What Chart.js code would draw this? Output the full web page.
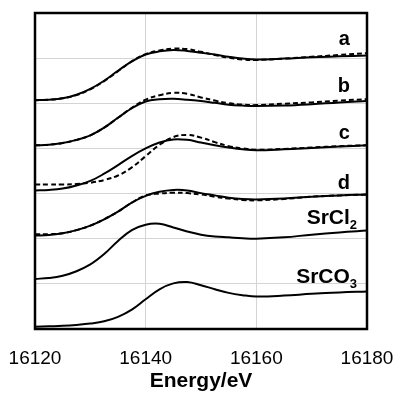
<!DOCTYPE html>
<html>
<head>
<meta charset="utf-8">
<script src="https://cdn.jsdelivr.net/npm/chart.js@4"></script>
<style>
  body { margin: 0; background: #fff; }
  #wrap { width: 397px; height: 394px; }
</style>
</head>
<body>
<div id="wrap"><canvas id="xanesChart"></canvas></div>
<script>
const energy = [16120, 16122.5, 16125, 16127.5, 16130, 16132.5, 16135, 16137.5, 16140, 16142.5, 16145,
                16147.5, 16150, 16152.5, 16155, 16157.5, 16160, 16165, 16170, 16175, 16180];

// stacked spectra, offset by one grid unit each
const aSolid  = [5.07, 5.08, 5.11, 5.19, 5.32, 5.50, 5.72, 5.93, 6.08, 6.15, 6.18, 6.16, 6.12, 6.08, 6.03, 5.99, 5.97, 5.99, 6.02, 6.04, 6.06];
const aDashed = [5.07, 5.08, 5.11, 5.18, 5.31, 5.49, 5.71, 5.93, 6.09, 6.17, 6.21, 6.20, 6.14, 6.07, 6.01, 5.97, 5.96, 5.99, 6.03, 6.07, 6.11];
const bSolid  = [4.07, 4.08, 4.12, 4.19, 4.29, 4.46, 4.68, 4.89, 5.04, 5.09, 5.10, 5.08, 5.05, 5.01, 4.97, 4.95, 4.94, 4.95, 4.98, 5.02, 5.05];
const bDashed = [4.07, 4.08, 4.12, 4.19, 4.29, 4.46, 4.68, 4.90, 5.08, 5.18, 5.23, 5.21, 5.13, 5.06, 5.00, 4.97, 4.96, 4.99, 5.02, 5.06, 5.09];
const cSolid  = [3.07, 3.08, 3.11, 3.18, 3.28, 3.44, 3.63, 3.83, 4.00, 4.13, 4.20, 4.19, 4.13, 4.07, 4.02, 3.98, 3.96, 3.98, 4.01, 4.04, 4.07];
const cDashed = [3.20, 3.20, 3.20, 3.21, 3.24, 3.30, 3.40, 3.58, 3.83, 4.08, 4.25, 4.30, 4.24, 4.14, 4.05, 4.00, 3.97, 3.99, 4.02, 4.05, 4.07];
const dSolid  = [2.07, 2.08, 2.12, 2.19, 2.29, 2.43, 2.60, 2.80, 2.95, 3.04, 3.08, 3.07, 3.01, 2.96, 2.91, 2.88, 2.87, 2.89, 2.93, 2.96, 2.98];
const dDashed = [2.10, 2.10, 2.12, 2.19, 2.29, 2.43, 2.60, 2.80, 2.96, 3.00, 3.02, 3.01, 2.98, 2.93, 2.89, 2.86, 2.85, 2.88, 2.93, 2.96, 2.98];
const srcl2   = [1.11, 1.13, 1.18, 1.28, 1.43, 1.66, 1.95, 2.19, 2.31, 2.33, 2.25, 2.16, 2.09, 2.05, 2.03, 2.01, 2.00, 2.03, 2.09, 2.14, 2.18];
const srco3   = [0.05, 0.06, 0.07, 0.09, 0.12, 0.17, 0.27, 0.43, 0.66, 0.88, 1.01, 1.04, 0.97, 0.88, 0.80, 0.75, 0.72, 0.74, 0.78, 0.81, 0.83];

const xTicks = [16120, 16140, 16160, 16180];

// curve labels: text, subscript, anchor (energy, y)
const curveLabels = [
  { text: "a", sub: "", x: 16176.9, y: 6.29 },
  { text: "b", sub: "", x: 16176.9, y: 5.25 },
  { text: "c", sub: "", x: 16176.9, y: 4.20 },
  { text: "d", sub: "", x: 16176.9, y: 3.10 },
  { text: "SrCl", sub: "2", x: 16178.2, y: 2.33 },
  { text: "SrCO", sub: "3", x: 16178.2, y: 1.02 }
];

function toPoints(values) {
  return values.map((v, i) => ({ x: energy[i], y: v }));
}

function line(values, dashed) {
  return {
    data: toPoints(values),
    borderColor: "#000",
    borderWidth: 2,
    borderDash: dashed ? [5, 3] : [],
    pointRadius: 0,
    fill: false,
    tension: 0.4
  };
}

const frame = {
  id: "frame",
  afterDraw(chart) {
    const { ctx, chartArea: a } = chart;
    ctx.save();
    ctx.strokeStyle = "#000";
    ctx.lineWidth = 2.5;
    ctx.strokeRect(a.left, a.top, a.right - a.left, a.bottom - a.top);
    ctx.restore();
  }
};

const labels = {
  id: "labels",
  afterDatasetsDraw(chart) {
    const { ctx, scales } = chart;
    ctx.save();
    ctx.fillStyle = "#000";
    ctx.textBaseline = "alphabetic";
    curveLabels.forEach(l => {
      const px = scales.x.getPixelForValue(l.x);
      const py = scales.y.getPixelForValue(l.y);
      const big = l.sub ? "bold 21px 'Liberation Sans', Arial" : "bold 20px 'Liberation Sans', Arial";
      const small = "bold 13px 'Liberation Sans', Arial";
      ctx.font = small;
      const subW = l.sub ? ctx.measureText(l.sub).width : 0;
      ctx.font = big;
      ctx.textAlign = "right";
      ctx.fillText(l.text, px - subW, py);
      if (l.sub) {
        ctx.font = small;
        ctx.fillText(l.sub, px, py + 5);
      }
    });
    ctx.restore();
  }
};

new Chart(document.getElementById("xanesChart"), {
  type: "line",
  data: {
    datasets: [
      line(aSolid, false), line(aDashed, true),
      line(bSolid, false), line(bDashed, true),
      line(cSolid, false), line(cDashed, true),
      line(dSolid, false), line(dDashed, true),
      line(srcl2, false), line(srco3, false)
    ]
  },
  options: {
    responsive: true,
    maintainAspectRatio: false,
    animation: false,
    layout: { padding: { left: 35, top: 13, right: 30, bottom: 0 } },
    plugins: { legend: { display: false }, tooltip: { enabled: false } },
    scales: {
      x: {
        type: "linear",
        min: 16120,
        max: 16180,
        afterBuildTicks: s => { s.ticks = xTicks.map(v => ({ value: v })); },
        afterFit: s => { s.height = 65; s.paddingLeft = 0; s.paddingRight = 0; },
        grid: { color: "#d4d4d4", lineWidth: 1, drawTicks: false },
        border: { display: false },
        ticks: {
          color: "#000",
          padding: 18,
          maxRotation: 0,
          autoSkip: false,
          callback: v => String(v),
          font: { family: "'Liberation Sans', Arial", size: 19 }
        },
        title: {
          display: true,
          text: "Energy/eV",
          color: "#000",
          padding: { top: 0, bottom: 0 },
          font: { family: "'Liberation Sans', Arial", size: 21, weight: "bold" }
        }
      },
      y: {
        min: 0,
        max: 7,
        afterFit: s => { s.width = 0; },
        ticks: { display: false, stepSize: 1 },
        grid: { color: "#d4d4d4", lineWidth: 1, drawTicks: false },
        border: { display: false }
      }
    }
  },
  plugins: [frame, labels]
});
</script>
</body>
</html>
